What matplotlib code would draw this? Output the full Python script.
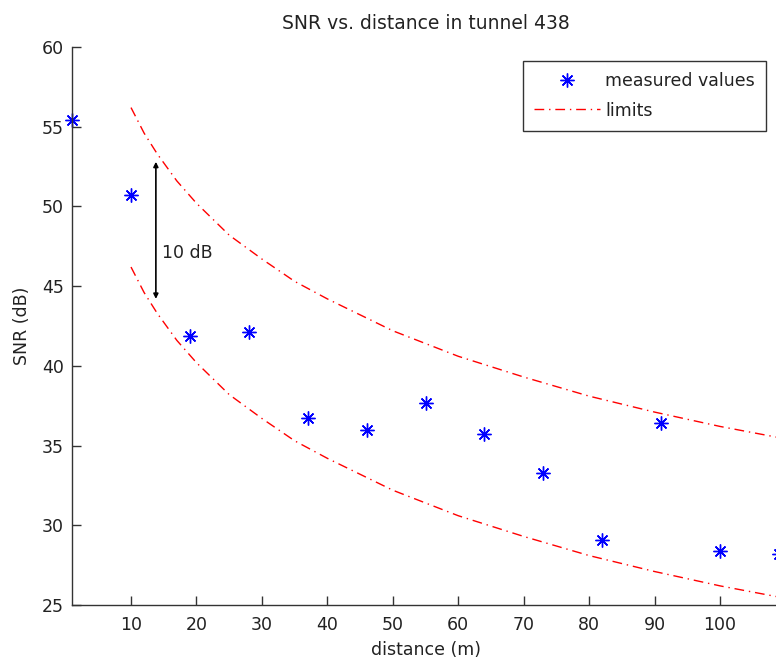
import matplotlib.pyplot as plt

plt.rcParams["font.family"] = ["DejaVu Sans"]

# measured SNR per position along the tunnel
distance = [1, 10, 19, 28, 37, 46, 55, 64, 73, 82, 91, 100, 109]
snr = [55.4, 50.7, 41.9, 42.1, 36.7, 36.0, 37.7, 35.7, 33.3, 29.1, 36.4, 28.4, 28.2]

# upper / lower limit curves
limit_x = [10, 12, 14, 17, 20, 25, 30, 35, 40, 50, 60, 70, 80, 90, 100, 109]
upper = [56.2, 54.6, 53.3, 51.6, 50.2, 48.2, 46.7, 45.3, 44.2, 42.2, 40.6,
         39.3, 38.1, 37.1, 36.2, 35.5]
lower = [46.2, 44.6, 43.3, 41.6, 40.2, 38.2, 36.7, 35.3, 34.2, 32.2, 30.6,
         29.3, 28.1, 27.1, 26.2, 25.5]

# 10 dB gap marker
gap_x = 13.8
gap_lo, gap_hi = 44.2, 52.8

FS = 12.5

fig = plt.figure(figsize=(7.76, 6.6), dpi=100)
ax = fig.add_axes([0.0929, 0.0833, 0.911, 0.8455])

ax.plot(distance, snr, ls="none", marker=(8, 2, 0), ms=10, mew=1.0,
        color="blue", label="measured values", clip_on=False)
dashdot = (0, (7, 3.5, 1, 3.5))
ax.plot(limit_x, upper, color="red", ls=dashdot, lw=1.0, label="limits")
ax.plot(limit_x, lower, color="red", ls=dashdot, lw=1.0)

ax.annotate("", xy=(gap_x, gap_hi), xytext=(gap_x, gap_lo),
            arrowprops=dict(arrowstyle="<|-|>", color="black", lw=1.2,
                            mutation_scale=7, shrinkA=0, shrinkB=0))
ax.text(gap_x + 1.0, 47.1, "10 dB", fontsize=FS, va="center", ha="left",
        color="#222222")

ax.set_xlim(1, 109)
ax.set_ylim(25, 60)
ax.set_xticks(range(10, 101, 10))
ax.set_yticks(range(25, 61, 5))
ax.tick_params(direction="in", length=6.5, width=1, labelsize=FS,
               colors="#333333", labelcolor="#222222")
ax.tick_params(axis="x", pad=8)
ax.tick_params(axis="y", pad=6)
ax.spines["top"].set_visible(False)
ax.spines["right"].set_visible(False)
for side in ("left", "bottom"):
    ax.spines[side].set_color("#333333")
    ax.spines[side].set_linewidth(1.0)

ax.set_title("SNR vs. distance in tunnel 438", fontsize=13.5, pad=13,
             color="#222222")
ax.set_xlabel("distance (m)", fontsize=FS, labelpad=5, color="#222222")
ax.set_ylabel("SNR (dB)", fontsize=FS, labelpad=8, color="#222222")

leg = ax.legend(loc="upper right", bbox_to_anchor=(0.982, 0.975),
                fontsize=FS, frameon=True, fancybox=False,
                edgecolor="black", handlelength=3.8, handletextpad=0.3,
                borderpad=0.65, labelspacing=0.65, borderaxespad=0)
leg.get_frame().set_linewidth(1.0)
for t in leg.get_texts():
    t.set_color("#222222")

fig.savefig("out.png", dpi=100)
